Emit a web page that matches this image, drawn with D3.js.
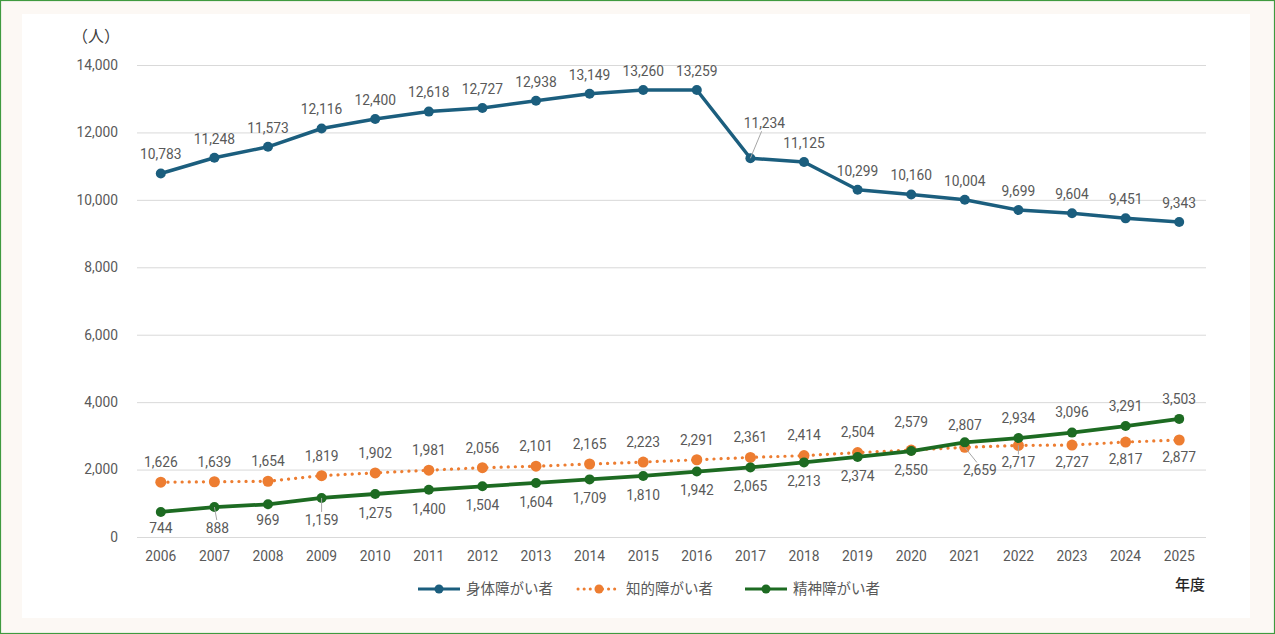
<!DOCTYPE html>
<html><head><meta charset="utf-8">
<script src="https://cdn.jsdelivr.net/npm/d3@7"></script>
<style>
html,body{margin:0;padding:0;background:#fcf8f4;}
svg{display:block;}
</style></head><body>
<svg id="chart" width="1275" height="634"></svg>
<script>
const years = ["2006","2007","2008","2009","2010","2011","2012","2013","2014","2015","2016","2017","2018","2019","2020","2021","2022","2023","2024","2025"];
const physical = [10783,11248,11573,12116,12400,12618,12727,12938,13149,13260,13259,11234,11125,10299,10160,10004,9699,9604,9451,9343];
const intellectual = [1626,1639,1654,1819,1902,1981,2056,2101,2165,2223,2291,2361,2414,2504,2579,2659,2717,2727,2817,2877];
const mental = [744,888,969,1159,1275,1400,1504,1604,1709,1810,1942,2065,2213,2374,2550,2807,2934,3096,3291,3503];
const yTicks = [0,2000,4000,6000,8000,10000,12000,14000];
const seriesNames = ["身体障がい者","知的障がい者","精神障がい者"];
const unitLabel = "（人）";
const xTitle = "年度";

const svg = d3.select("#chart");
const W = 1275, H = 634;
svg.append("rect").attr("x",0.5).attr("y",0.5).attr("width",W-1).attr("height",H-1)
  .attr("fill","#fcf8f4").attr("stroke","#3f9a3f").attr("stroke-width",1.2);
svg.append("rect").attr("x",22).attr("y",14).attr("width",1228).attr("height",604).attr("fill","#ffffff");

const x = d3.scaleBand().domain(years).range([134,1206]);
const y = d3.scaleLinear().domain([0,14000]).range([537,65]);
const cx = d => x(d) + x.bandwidth()/2;
const font = "Roboto, 'Noto Sans CJK JP', sans-serif";
const txtCol = "#595959";
const fs = "13.8px";

// gridlines
const yAxis = d3.axisLeft(y).tickValues(yTicks).tickSize(-(1206-137)).tickFormat(d3.format(","));
const gy = svg.append("g").attr("transform","translate(137,0)").call(yAxis);
gy.select(".domain").remove();
gy.selectAll(".tick line").attr("stroke","#d9d9d9").attr("stroke-width",1);
gy.selectAll(".tick text").attr("x",-19).attr("fill",txtCol).style("font-family",font).style("font-size",fs);

const xAxis = d3.axisBottom(x).tickSize(0).tickPadding(14);
const gx = svg.append("g").attr("transform","translate(0,537)").call(xAxis);
gx.select(".domain").remove();
gx.selectAll(".tick text").attr("fill",txtCol).style("font-family",font).style("font-size",fs);

svg.append("text").attr("x",96).attr("y",42).attr("text-anchor","middle")
  .attr("fill","#404040").style("font-family",font).style("font-size","16px").text(unitLabel);
svg.append("text").attr("x",1190).attr("y",590).attr("text-anchor","middle")
  .attr("fill","#262626").style("font-family",font).style("font-size","15px").style("font-weight","500").text(xTitle);

const colors = ["#1b5e7e","#ed7d31","#1d6b22"];
const series = [
  {name:seriesNames[0], vals:physical, color:colors[0], dash:null, r:5, w:3.5},
  {name:seriesNames[1], vals:intellectual, color:colors[1], dash:"0.1 7", r:5.5, w:3.2},
  {name:seriesNames[2], vals:mental, color:colors[2], dash:null, r:5, w:3.8}
];

const line = d3.line().x((d,i)=>cx(years[i])).y(d=>y(d));
[1,2,0].forEach(k=>{
  const s = series[k];
  const p = svg.append("path").datum(s.vals).attr("d",line).attr("fill","none")
    .attr("stroke",s.color).attr("stroke-width",s.w).attr("stroke-linejoin","round");
  if(s.dash) p.attr("stroke-dasharray",s.dash).attr("stroke-linecap","round");
  svg.append("g").selectAll("circle").data(s.vals).join("circle")
    .attr("cx",(d,i)=>cx(years[i])).attr("cy",d=>y(d)).attr("r",s.r).attr("fill",s.color);
});

function labelPos(k,i){
  const yr = +years[i];
  if(k===0) return {dx:0, dy:-19};
  if(k===1) return yr>=2021 ? {dx:0, dy:17} : {dx:0, dy:-20};
  return yr>=2021 ? {dx:0, dy:-20} : {dx:0, dy:19};
}
const adjust = {
  "0-2017":{dx:14, dy:-35, leader:true},
  "1-2020":{dx:0, dy:-28},
  "1-2021":{dx:15, dy:23, leader:true},
  "1-2022":{dx:0, dy:17, leader:true},
  "2-2007":{dx:3, dy:21, leader:true},
  "2-2009":{dx:0, dy:22, leader:true},
  "2-2006":{dx:0, dy:16},
  "2-2008":{dx:0, dy:16},
  "2-2021":{dx:0, dy:-17}
};
const lab = svg.append("g");
series.forEach((s,k)=>{
  s.vals.forEach((v,i)=>{
    const key = k+"-"+years[i];
    let p = labelPos(k,i);
    const a = adjust[key];
    if(a) p = {dx:a.dx, dy:a.dy};
    const px = cx(years[i]), py = y(v);
    if(a && a.leader){
      const up = p.dy<0;
      lab.append("line").attr("x1",px).attr("y1",py)
        .attr("x2",px+p.dx*0.8).attr("y2",py+p.dy+(up?8:-8))
        .attr("stroke","#a6a6a6").attr("stroke-width",1);
    }
    lab.append("text").attr("x",px+p.dx).attr("y",py+p.dy).attr("dy","0.35em")
      .attr("text-anchor","middle").attr("fill",txtCol)
      .style("font-family",font).style("font-size",fs).text(d3.format(",")(v));
  });
});

const legX = [418,578,745];
const lg = svg.append("g");
series.forEach((s,k)=>{
  const g = lg.append("g").attr("transform",`translate(${legX[k]},589)`);
  const l = g.append("line").attr("x1",0).attr("x2",42).attr("y1",0).attr("y2",0)
    .attr("stroke",s.color).attr("stroke-width",3);
  if(s.dash) l.attr("stroke-dasharray","0.1 6").attr("stroke-linecap","round");
  g.append("circle").attr("cx",21).attr("cy",0).attr("r",4.5).attr("fill",s.color);
  g.append("text").attr("x",48).attr("y",0).attr("dy","0.35em").attr("fill",txtCol)
    .style("font-family",font).style("font-size","14.5px").text(s.name);
});
</script></body></html>
